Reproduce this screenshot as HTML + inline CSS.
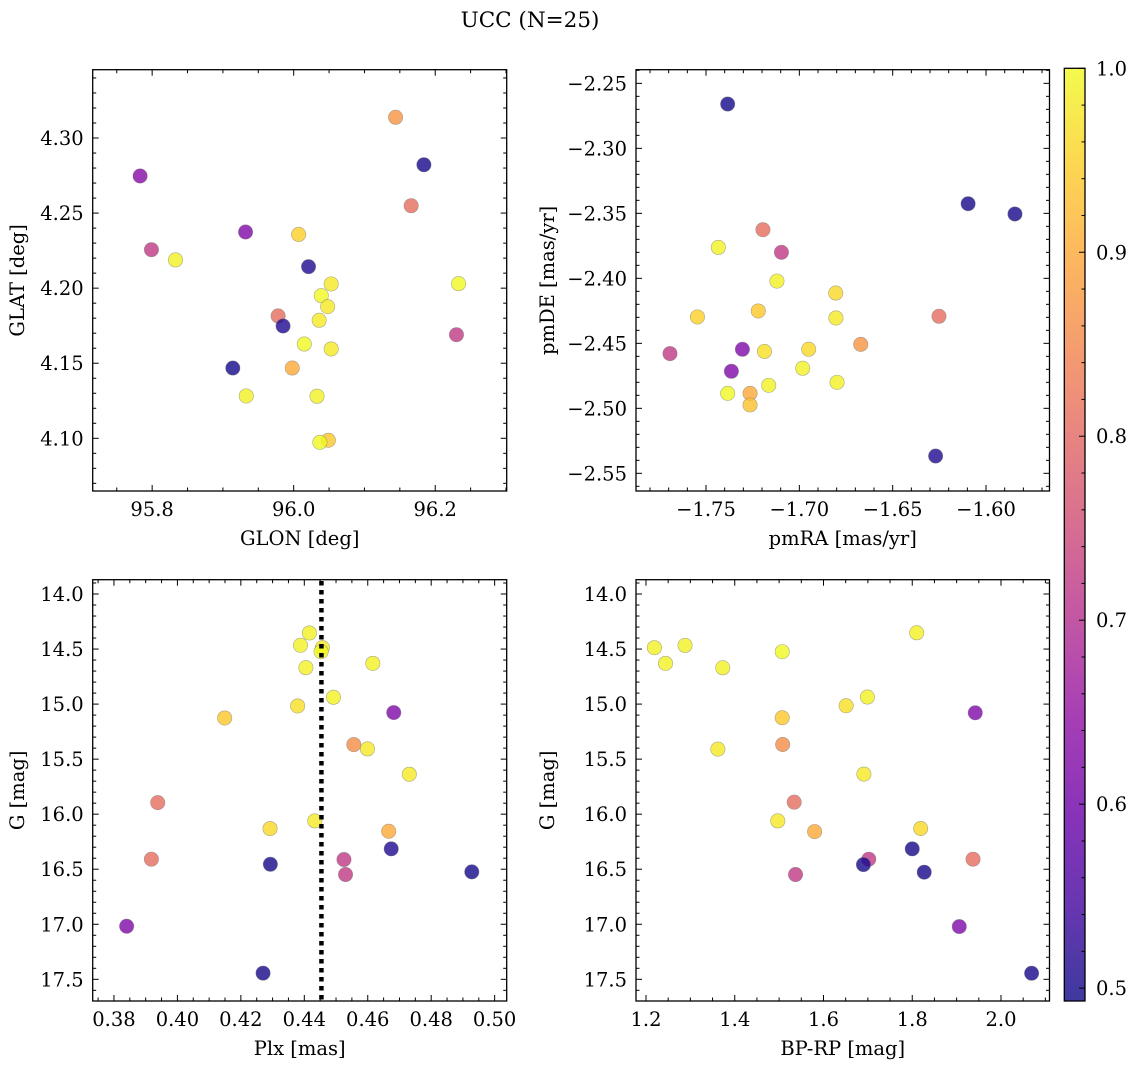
<!DOCTYPE html>
<html><head><meta charset="utf-8"><style>
html,body{margin:0;padding:0;background:#fff;}
svg{display:block;font-family:"DejaVu Serif","Liberation Serif",serif;}
</style></head><body>
<svg id="fig" width="1136" height="1068" viewBox="0 0 1136 1068" xmlns="http://www.w3.org/2000/svg">
<text x="530" y="27" font-size="21.5" text-anchor="middle">UCC (N=25)</text>
</svg>
<script>
// ---- data: top-left (GLON vs GLAT)
const glonTL=[96.144,95.783,96.184,96.166,95.932,96.007,95.799,95.833,96.021,96.053,96.233,96.039,96.048,95.978,95.985,96.036,96.015,96.053,96.230,95.914,95.998,95.933,96.033,96.049,96.037];
const glatTL=[4.3138,4.2747,4.2822,4.2549,4.2374,4.2358,4.2256,4.2188,4.2143,4.2028,4.2030,4.1950,4.1877,4.1815,4.1748,4.1786,4.1628,4.1595,4.1690,4.1468,4.1468,4.1282,4.1280,4.0987,4.0973];
const probTL=[0.87,0.63,0.50,0.81,0.62,0.95,0.72,0.99,0.51,0.98,1.0,1.0,0.98,0.81,0.51,0.98,1.0,0.98,0.72,0.50,0.90,0.99,0.99,0.94,1.0];
// ---- data: top-right (pmRA vs pmDE)
const pmraTR=[-1.7384,-1.6096,-1.5845,-1.7195,-1.7096,-1.7434,-1.7120,-1.6805,-1.7220,-1.7546,-1.6252,-1.6804,-1.6671,-1.7693,-1.7305,-1.7187,-1.6950,-1.7364,-1.6982,-1.7164,-1.6798,-1.7384,-1.7264,-1.7264,-1.6270];
const pmdeTR=[-2.2659,-2.3426,-2.3505,-2.3626,-2.3800,-2.3762,-2.4021,-2.4113,-2.4251,-2.4297,-2.4292,-2.4305,-2.4508,-2.4579,-2.4546,-2.4562,-2.4546,-2.4715,-2.4692,-2.4823,-2.4800,-2.4885,-2.4885,-2.4974,-2.5367];
const probTR=[0.50,0.50,0.50,0.81,0.72,0.99,0.99,0.96,0.94,0.95,0.81,0.98,0.87,0.72,0.62,0.97,0.96,0.62,0.99,0.99,0.99,1.0,0.90,0.93,0.51];
// ---- data: bottom-left (Plx vs G)
const plxBL=[0.4416,0.4388,0.4457,0.4453,0.4616,0.4405,0.4492,0.4379,0.4682,0.4149,0.4556,0.4599,0.4731,0.3938,0.4433,0.4292,0.4666,0.4674,0.3918,0.4525,0.4293,0.4530,0.4928,0.3840,0.4270];
const gBL=[14.354,14.466,14.487,14.524,14.630,14.669,14.938,15.017,15.077,15.126,15.368,15.407,15.637,15.895,16.061,16.131,16.155,16.315,16.409,16.412,16.455,16.548,16.524,17.018,17.444];
const probBL=[0.99,0.99,0.98,1.0,0.99,0.99,0.99,0.97,0.62,0.94,0.86,0.98,0.98,0.81,0.98,0.96,0.90,0.51,0.81,0.72,0.50,0.72,0.50,0.62,0.50];
const plxLine=[0.4454];
// ---- data: bottom-right (BP-RP vs G)
const bprpBR=[1.219,1.244,1.288,1.373,1.507,1.810,1.699,1.651,1.942,1.507,1.508,1.362,1.691,1.534,1.497,1.819,1.580,1.800,1.937,1.702,1.690,1.827,1.537,1.906,2.069];
const gBR=[14.488,14.630,14.467,14.670,14.524,14.352,14.936,15.015,15.079,15.124,15.367,15.409,15.636,15.891,16.061,16.130,16.158,16.315,16.409,16.409,16.458,16.527,16.548,17.021,17.445];
const probBR=[0.99,0.99,0.99,0.99,1.0,0.99,0.99,0.97,0.62,0.94,0.86,0.98,0.98,0.81,0.98,0.96,0.90,0.50,0.81,0.72,0.50,0.50,0.72,0.62,0.50];
// ---- tick labels
const ticksTLx=[95.8,96.0,96.2], ticksTLy=[4.10,4.15,4.20,4.25,4.30];
const ticksTRx=[-1.75,-1.70,-1.65,-1.60], ticksTRy=[-2.25,-2.30,-2.35,-2.40,-2.45,-2.50,-2.55];
const ticksBLx=[0.38,0.40,0.42,0.44,0.46,0.48,0.50], ticksGy=[14.0,14.5,15.0,15.5,16.0,16.5,17.0,17.5];
const ticksBRx=[1.2,1.4,1.6,1.8,2.0];
const ticksCbar=[0.5,0.6,0.7,0.8,0.9,1.0];
const cmin=0.493,cmax=1.0;

const FS=19.5;
const NS="http://www.w3.org/2000/svg";
const svg=document.getElementById('fig');
function mk(tag,attrs,parent){const e=document.createElementNS(NS,tag);for(const k in attrs)e.setAttribute(k,attrs[k]);(parent||svg).appendChild(e);return e;}
const plasma=[[13,8,135],[65,4,157],[106,0,168],[143,13,164],[177,42,144],[204,71,120],[225,100,98],[242,132,75],[252,166,54],[252,206,37],[240,249,33]];
function cmap(v){let t=(v-cmin)/(cmax-cmin);t=Math.max(0,Math.min(1,t))*10;const i=Math.min(9,Math.floor(t)),f=t-i;const a=plasma[i],b=plasma[i+1];return 'rgb('+[0,1,2].map(k=>Math.round(a[k]+(b[k]-a[k])*f)).join(',')+')';}
function fmt(v,d){return (v<0?'\u2212':'')+Math.abs(v).toFixed(d);}

function panel(name,px0,px1,py0,py1,xd,yd,invY,xt,xdec,xminor,yt,ydec,yminor,xlabel,ylabel,xs,ys,ps){
  const g=mk('g',{});
  
  
  const sx=v=>px0+(v-xd[0])/(xd[1]-xd[0])*(px1-px0);
  const sy=v=>invY? py0+(v-yd[0])/(yd[1]-yd[0])*(py1-py0) : py1-(v-yd[0])/(yd[1]-yd[0])*(py1-py0);
  const pg=mk('g',{},g);
  
  
  for(let i=0;i<xs.length;i++){
    const c=mk('circle',{cx:sx(xs[i]),cy:sy(ys[i]),r:7.2,fill:cmap(ps[i]),'fill-opacity':0.8,stroke:'#777','stroke-opacity':0.6,'stroke-width':0.6},pg);
    
    
  }
  const tg=mk('g',{stroke:'#000','stroke-width':1},g);
  const step=(xt[1]-xt[0])/xminor;
  for(let v=xt[0]-step*Math.ceil((xt[0]-xd[0])/step);v<=xd[1]+1e-9;v+=step){
    if(v<xd[0]-1e-9)continue;
    const isMaj=xt.some(t=>Math.abs(t-v)<step/10);const L=isMaj?6:3.5;const x=sx(v);
    mk('line',{x1:x,x2:x,y1:py1,y2:py1-L},tg);mk('line',{x1:x,x2:x,y1:py0,y2:py0+L},tg);
  }
  const ystep=Math.abs(yt[1]-yt[0])/yminor;const ylo=Math.min(yd[0],yd[1]),yhi=Math.max(yd[0],yd[1]);const ymn=Math.min(...yt);
  for(let v=ymn-ystep*Math.ceil((ymn-ylo)/ystep);v<=yhi+1e-9;v+=ystep){
    if(v<ylo-1e-9)continue;
    const isMaj=yt.some(t=>Math.abs(t-v)<ystep/10);const L=isMaj?6:3.5;const y=sy(v);
    mk('line',{x1:px0,x2:px0+L,y1:y,y2:y},tg);mk('line',{x1:px1,x2:px1-L,y1:y,y2:y},tg);
  }
  mk('rect',{x:px0,y:py0,width:px1-px0,height:py1-py0,fill:'none',stroke:'#000','stroke-width':1.3},g);
  xt.forEach(v=>{const t=mk('text',{x:sx(v),y:py1+25,'font-size':FS,'text-anchor':'middle'},g);t.textContent=fmt(v,xdec);
    });
  yt.forEach(v=>{const t=mk('text',{x:px0-9,y:sy(v)+7,'font-size':FS,'text-anchor':'end'},g);t.textContent=fmt(v,ydec);
    });
  const xl=mk('text',{x:(px0+px1)/2,y:py1+54,'font-size':FS,'text-anchor':'middle'},g);xl.textContent=xlabel;
  
  const yx=(px0<300)?24:(px0-82);
  const yl=mk('text',{x:yx,y:(py0+py1)/2,'font-size':FS,'text-anchor':'middle',transform:'rotate(-90 '+yx+' '+(py0+py1)/2+')'},g);yl.textContent=ylabel;
  
  return {sx,sy};
}
panel('glon-glat-panel',92.7,506.7,69.7,491,[95.716,96.301],[4.0649,4.3455],false,ticksTLx,1,4,ticksTLy,2,5,'GLON [deg]','GLAT [deg]',glonTL,glatTL,probTL);
panel('pm-panel',636,1049.5,69.7,491,[-1.7875,-1.566],[-2.5636,-2.2395],false,ticksTRx,2,5,ticksTRy,2,5,'pmRA [mas/yr]','pmDE [mas/yr]',pmraTR,pmdeTR,probTR);
const bl=panel('plx-g-panel',92.7,506.7,579.7,1001,[0.3733,0.5038],[13.870,17.697],true,ticksBLx,2,4,ticksGy,1,5,'Plx [mas]','G [mag]',plxBL,gBL,probBL);
panel('cmd-panel',636,1049.5,579.7,1001,[1.1775,2.1093],[13.870,17.697],true,ticksBRx,1,4,ticksGy,1,5,'BP-RP [mag]','G [mag]',bprpBR,gBR,probBR);
plxLine.forEach(v=>{const l=mk('line',{x1:bl.sx(v),x2:bl.sx(v),y1:581,y2:1000,stroke:'#000','stroke-width':4.5,'stroke-dasharray':'4.5 4.5'});
  });
const cb=mk('g',{});


const cx0=1064.3,cx1=1085,cy0=68.3,cy1=1001;
const cy=v=>cy1-(v-cmin)/(cmax-cmin)*(cy1-cy0);
const defs=mk('defs',{},cb);const lg=mk('linearGradient',{id:'pl',x1:0,y1:1,x2:0,y2:0},defs);
for(let i=0;i<=20;i++){const v=cmin+(cmax-cmin)*i/20;mk('stop',{offset:i/20,'stop-color':cmap(v),'stop-opacity':0.8},lg);}
mk('rect',{x:cx0,y:cy0,width:cx1-cx0,height:cy1-cy0,fill:'url(#pl)',stroke:'#000','stroke-width':1.3},cb);
for(let v=0.5;v<=1.0001;v+=0.02){const y=cy(v);const maj=Math.abs(v*10-Math.round(v*10))<0.01;mk('line',{x1:cx1,x2:cx1-(maj?6:3.5),y1:y,y2:y,stroke:'#000','stroke-width':1},cb);}
ticksCbar.forEach(v=>{const t=mk('text',{x:1096,y:cy(v)+7,'font-size':FS},cb);t.textContent=v.toFixed(1);
  });
</script>
</body></html>
